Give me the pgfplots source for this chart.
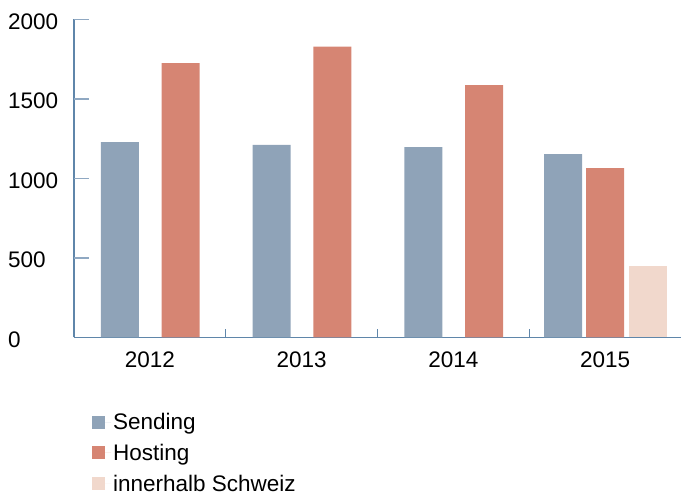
\documentclass[border=0pt]{standalone}
\usepackage{pgfplots}
\pgfplotsset{compat=1.18}
\usepackage{fontspec}
\setmainfont{Liberation Sans}
\definecolor{cSend}{HTML}{8FA3B8}
\definecolor{cHost}{HTML}{D68573}
\definecolor{cCH}{HTML}{F1D8CC}
\definecolor{axcol}{HTML}{5F86AA}
\definecolor{tkcol}{HTML}{8FA8C2}
\begin{document}
\begin{tikzpicture}
\useasboundingbox (-74pt,-154.5pt) rectangle (607pt,337.5pt);
\begin{axis}[
  scale only axis,
  width=607pt, height=318pt,
  xmin=0, xmax=4, ymin=0, ymax=2000,
  clip=false,
  axis x line*=bottom, axis y line*=left,
  axis line style={-, draw=axcol, line width=1.2pt},
  font=\fontsize{22.5}{27}\selectfont,
  /pgf/number format/assume math mode=true,
  /pgf/number format/set thousands separator={},
  ytick={0,500,1000,1500,2000},
  tick align=inside,
  major tick length=15pt,
  y tick style={draw=tkcol, line width=1.3pt},
  yticklabel style={anchor=west, xshift=-66pt, yshift=-2pt, inner sep=0pt},
  xtick={0.5,1.5,2.5,3.5},
  xticklabels={2012,2013,2014,2015},
  x tick style={draw=none},
  xticklabel style={yshift=-11pt},
  extra x ticks={1,2,3},
  extra x tick labels={},
  extra x tick style={major tick length=8pt, x tick style={draw=axcol, line width=1.2pt}},
  legend style={draw=none, fill=none, at={(axis description cs:0,0)}, anchor=north west,
    xshift=18pt, yshift=-73.5pt, row sep=9pt, inner sep=0pt,
    cells={anchor=west}, font=\fontsize{22.5}{27}\selectfont},
  legend cell align=left,
  mybar/.style={ybar, bar width=38pt, bar shift=0pt, draw=none,
    legend image code/.code={\fill[##1] (0pt,-6.5pt) rectangle (13pt,6.5pt); \path (0pt,0pt) -- (19pt,0pt);}},
]
\addplot[forget plot, draw=tkcol, line width=1.3pt, line cap=butt] coordinates {(0,500) (0.099,500)};
\addplot[forget plot, draw=tkcol, line width=1.3pt, line cap=butt] coordinates {(0,1000) (0.099,1000)};
\addplot[forget plot, draw=tkcol, line width=1.3pt, line cap=butt] coordinates {(0,1500) (0.099,1500)};
\addplot[forget plot, draw=tkcol, line width=1.3pt, line cap=butt] coordinates {(0,2000) (0.099,2000)};
\addplot[mybar, fill=cSend] coordinates {(0.302,1229) (1.303,1211) (2.303,1198) (3.224,1154)};
\addlegendentry{Sending}
\addplot[mybar, fill=cHost] coordinates {(0.703,1726) (1.703,1829) (2.703,1588) (3.5,1066)};
\addlegendentry{Hosting}
\addplot[mybar, fill=cCH] coordinates {(3.782,450)};
\addlegendentry{innerhalb Schweiz}
\end{axis}
\end{tikzpicture}
\end{document}
